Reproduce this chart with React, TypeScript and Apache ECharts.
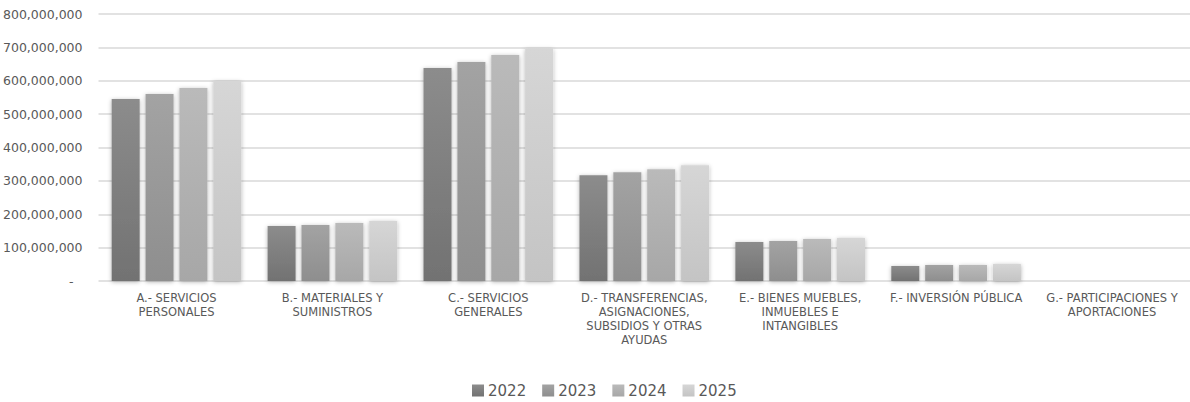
import React, { useEffect, useRef } from "react";
import * as echarts from "echarts";

const categories = [
  "A.- SERVICIOS\nPERSONALES",
  "B.- MATERIALES Y\nSUMINISTROS",
  "C.- SERVICIOS\nGENERALES",
  "D.- TRANSFERENCIAS,\nASIGNACIONES,\nSUBSIDIOS Y OTRAS\nAYUDAS",
  "E.- BIENES MUEBLES,\nINMUEBLES E\nINTANGIBLES",
  "F.- INVERSIÓN PÚBLICA",
  "G.- PARTICIPACIONES Y\nAPORTACIONES",
];

const years = ["2022", "2023", "2024", "2025"];

const values2022 = [545000000, 165000000, 638000000, 317000000, 117000000, 45000000, 0];
const values2023 = [560000000, 168000000, 656000000, 326000000, 120000000, 48000000, 0];
const values2024 = [578000000, 174000000, 677000000, 335000000, 126000000, 48000000, 0];
const values2025 = [599000000, 180000000, 697000000, 347000000, 129000000, 51000000, 0];

const seriesValues = [values2022, values2023, values2024, values2025];

const topColors = ["#8c8c8c", "#a3a3a3", "#bababa", "#d6d6d6"];
const bottomColors = ["#727272", "#8e8e8e", "#a7a7a7", "#c4c4c4"];

const FONT = "DejaVu Sans";

export default function App() {
  const ref = useRef<HTMLDivElement>(null);

  useEffect(() => {
    if (!ref.current) return;
    const chart = echarts.init(ref.current, undefined, { renderer: "svg" });
    const fmt = (v: number) =>
      v === 0 ? "{z|-}" : v.toLocaleString("en-US");
    chart.setOption({
      animation: false,
      backgroundColor: "#ffffff",
      textStyle: { fontFamily: FONT },
      grid: { left: 98, right: 0, top: 14, bottom: 121, containLabel: false },
      legend: {
        data: years,
        left: 472,
        top: 383,
        padding: 0,
        itemWidth: 12,
        itemHeight: 12,
        itemGap: 16,
        icon: "rect",
        textStyle: { fontFamily: FONT, fontSize: 15, color: "#595959", padding: [0, 0, 0, -1] },
      },
      xAxis: {
        type: "category",
        data: categories,
        axisTick: { show: false },
        axisLine: {
          lineStyle: {
            color: "#c4c4c4",
            width: 2,
            shadowBlur: 3,
            shadowColor: "rgba(0,0,0,0.25)",
            shadowOffsetY: 1,
          },
        },
        axisLabel: {
          interval: 0,
          fontFamily: FONT,
          fontSize: 11.5,
          color: "#595959",
          lineHeight: 14,
          margin: 10,
        },
      },
      yAxis: {
        type: "value",
        min: 0,
        max: 800000000,
        interval: 100000000,
        axisLine: { show: false },
        axisTick: { show: false },
        splitLine: { lineStyle: { color: "#d9d9d9", width: 1.5 } },
        axisLabel: {
          formatter: fmt,
          fontFamily: FONT,
          fontSize: 12.5,
          color: "#595959",
          margin: 16,
          rich: { z: { fontFamily: FONT, fontSize: 12.5, color: "#595959", padding: [0, 9, 0, 0] } },
        },
      },
      series: years.map((y, i) => ({
        name: y,
        type: "bar",
        data: seriesValues[i],
        barWidth: 28,
        barGap: "21%",
        itemStyle: {
          color: new echarts.graphic.LinearGradient(0, 0, 0, 1, [
            { offset: 0, color: topColors[i] },
            { offset: 1, color: bottomColors[i] },
          ]),
          shadowBlur: 4,
          shadowColor: "rgba(0,0,0,0.3)",
          shadowOffsetY: 1,
        },
      })),
    });
    return () => chart.dispose();
  }, []);

  return (
    <div
      ref={ref}
      style={{ position: "fixed", left: 0, top: 0, width: 1190, height: 402 }}
    />
  );
}
